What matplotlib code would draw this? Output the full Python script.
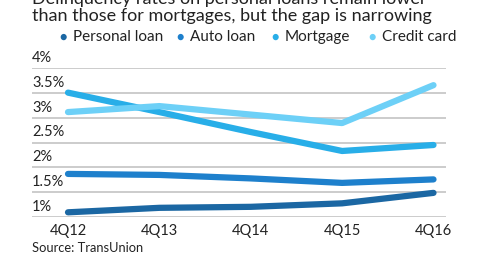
import matplotlib
matplotlib.use("Agg")
import matplotlib.pyplot as plt
import matplotlib.transforms as mtransforms

plt.rcParams['font.family'] = ['Lato', 'DejaVu Sans']

quarters = ["4Q12", "4Q13", "4Q14", "4Q15", "4Q16"]
personal_loan = [1.10, 1.19, 1.21, 1.28, 1.49]
auto_loan = [1.87, 1.85, 1.78, 1.69, 1.76]
mortgage = [3.50, 3.11, 2.71, 2.33, 2.45]
credit_card = [3.11, 3.23, 3.06, 2.89, 3.65]

series_names = ["Personal loan", "Auto loan", "Mortgage", "Credit card"]
series_colors = ["#1b67a3", "#1e80cc", "#28aee8", "#6dd0f7"]
y_ticks = [1, 1.5, 2, 2.5, 3, 3.5, 4]
y_labels = ["1%", "1.5%", "2%", "2.5%", "3%", "3.5%", "4%"]

fig = plt.figure(figsize=(4.95, 2.6), dpi=100)
ax = fig.add_axes([32 / 495, (260 - 217.3) / 260, 414 / 495, 149.6 / 260])

x = list(range(len(quarters)))
all_series = [personal_loan, auto_loan, mortgage, credit_card]
for vals, col in zip(all_series, series_colors):
    ax.plot(x, vals, color=col, lw=4.5, solid_capstyle='round',
            solid_joinstyle='round', clip_on=False, zorder=3)

ax.set_xlim(-36 / 91.375, 4 + 12.5 / 91.375)
ax.set_ylim(1, 4)
for yv in y_ticks:
    ax.axhline(yv, color="#c4c4c4", lw=1.2, zorder=1)

# y labels sit above their gridlines, left aligned
trans = mtransforms.offset_copy(ax.get_yaxis_transform(), fig=fig, x=0, y=3, units='dots')
for yv, lab in zip(y_ticks, y_labels):
    ax.text(0, yv, lab, transform=trans, ha='left', va='bottom',
            fontsize=10.5, color="#222222")

ax.set_yticks([])
ax.set_xticks(x)
ax.set_xticklabels(quarters, fontsize=10.5, color="#222222")
ax.tick_params(axis='x', length=0, pad=5)
for s in ax.spines.values():
    s.set_visible(False)

# title, first line is cut off at the top edge like the original
fig.text(32 / 495, 1 - 4 / 260, "Delinquency rates on personal loans remain lower",
         ha='left', va='baseline', fontsize=13, color="#222222")
fig.text(32 / 495, 1 - 21 / 260, "than those for mortgages, but the gap is narrowing",
         ha='left', va='baseline', fontsize=13, color="#222222")

# legend
marker_x = [63, 180, 275, 372]
for mx, name, col in zip(marker_x, series_names, series_colors):
    fig.text(mx / 495, 1 - 37 / 260, "\u25CF", color=col, fontsize=9, ha='center', va='center')
    fig.text((mx + 10) / 495, 1 - 37 / 260, name, color="#222222", fontsize=11, ha='left', va='center')

fig.text(32 / 495, 1 - 248 / 260, "Source: TransUnion", ha='left', va='center',
         fontsize=9.3, color="#222222")

fig.savefig("out.png", dpi=100)
